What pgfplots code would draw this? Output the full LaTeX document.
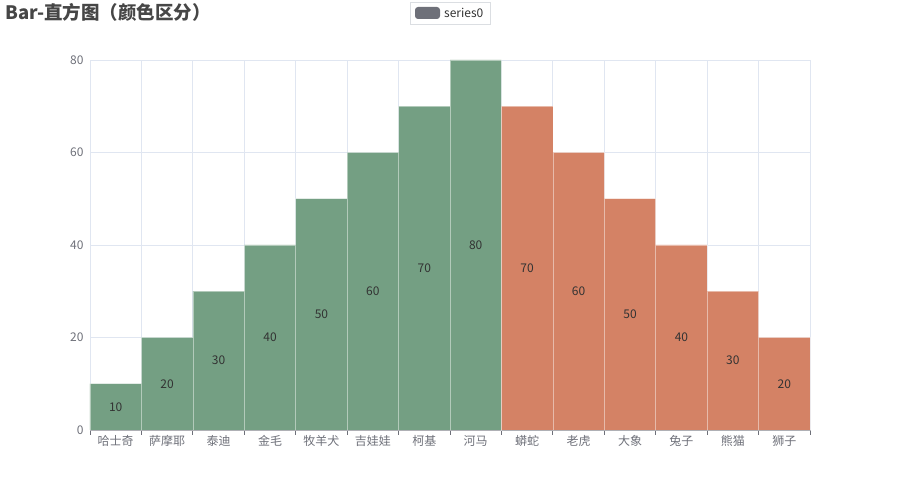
\documentclass[border=0pt]{standalone}
\usepackage{pgfplots}
\usepackage{pgfplotstable}
\pgfplotsset{compat=1.18}
\usepackage{fontspec}
\setmainfont{Noto Sans CJK SC}
\definecolor{cgreen}{HTML}{749F83}
\definecolor{corange}{HTML}{D48265}
\definecolor{axgray}{HTML}{6E7079}
\definecolor{gridc}{HTML}{E0E6F1}
\definecolor{titlec}{HTML}{464646}
\definecolor{labc}{HTML}{333333}
\pgfplotstableread{
x y
0 10
1 20
2 30
3 40
4 50
5 60
6 70
7 80
}\greendata
\pgfplotstableread{
x y
8 70
9 60
10 50
11 40
12 30
13 20
}\orangedata
\begin{document}
\begin{tikzpicture}[x=1pt,y=1pt]
\path[use as bounding box] (0,0) rectangle (900,500);
\node[anchor=base west, font=\fontsize{18.5}{21}\selectfont\bfseries, text=titlec, inner sep=0pt] at (5,480) {Bar-直方图（颜色区分）};
\draw[draw=gridc!70!gray!60, line width=0.8pt] (410,476) rectangle (490,498);
\fill[fill=axgray, rounded corners=3pt] (415,481) rectangle (440,493);
\node[anchor=west, font=\fontsize{12}{14}\selectfont, text=labc, inner sep=0pt] at (444,487) {series0};
\begin{axis}[
  at={(90pt,70pt)}, anchor=south west,
  scale only axis, width=720pt, height=370pt,
  xmin=-0.5, xmax=13.5, ymin=0, ymax=80,
  xtick={0,...,13},
  xticklabels={哈士奇,萨摩耶,泰迪,金毛,牧羊犬,吉娃娃,柯基,河马,蟒蛇,老虎,大象,兔子,熊猫,狮子},
  minor xtick={-0.5,0.5,...,13.5},
  ytick={0,20,40,60,80},
  major tick length=0pt,
  minor tick length=5pt,
  tick align=outside,
  minor tick style={draw=axgray, line width=0.8pt},
  minor x grid style={draw=gridc, line width=0.8pt},
  xminorgrids=true,
  ymajorgrids=true,
  major grid style={draw=gridc, line width=0.8pt},
  axis x line*=bottom,
  axis y line*=left,
  x axis line style={draw=axgray, line width=0.8pt, -},
  y axis line style={draw=none},
  ticklabel style={font=\fontsize{12}{14}\selectfont, text=axgray},
  xticklabel style={yshift=-2pt},
  yticklabel style={xshift=-3pt},
  /pgf/number format/assume math mode=true,
  clip=false,
]
\addplot[ybar, bar width=51.43pt, bar shift=0pt, fill=cgreen, draw=white, draw opacity=0.45, line width=0.6pt] table[x=x,y=y] {\greendata};
\addplot[ybar, bar width=51.43pt, bar shift=0pt, fill=corange, draw=white, draw opacity=0.45, line width=0.6pt] table[x=x,y=y] {\orangedata};
\addplot[only marks, mark=none, nodes near coords, point meta=explicit,
  nodes near coords style={anchor=center, font=\fontsize{12}{14}\selectfont, text=labc}]
  table[x=x, y expr=\thisrow{y}/2, meta=y] {\greendata};
\addplot[only marks, mark=none, nodes near coords, point meta=explicit,
  nodes near coords style={anchor=center, font=\fontsize{12}{14}\selectfont, text=labc}]
  table[x=x, y expr=\thisrow{y}/2, meta=y] {\orangedata};
\end{axis}
\end{tikzpicture}
\end{document}
